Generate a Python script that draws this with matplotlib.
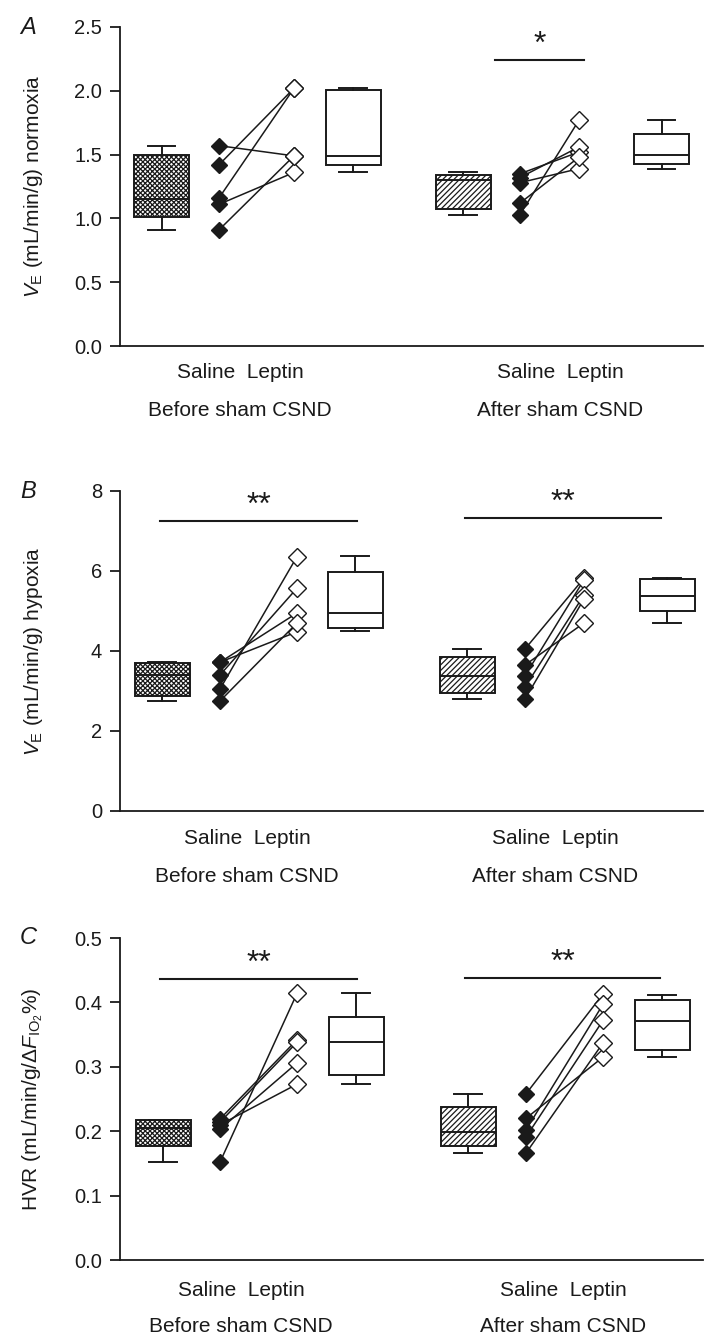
import matplotlib
matplotlib.use('Agg')
import matplotlib.pyplot as plt
import numpy as np

plt.rcParams['font.family'] = ['Liberation Sans', 'DejaVu Sans']
plt.rcParams['mathtext.fontset'] = 'custom'
plt.rcParams['mathtext.rm'] = 'Liberation Sans'
plt.rcParams['mathtext.it'] = 'Liberation Sans:italic'
plt.rcParams['hatch.linewidth'] = 0.9

INK = '#1a1a1a'

# box stats per group: whisker low, q1, median, q3, whisker high
# panel A (normoxia)
a_sal_before_box = [0.91, 1.01, 1.15, 1.50, 1.57]
a_lep_before_box = [1.36, 1.42, 1.49, 2.01, 2.02]
a_sal_after_box = [1.03, 1.07, 1.30, 1.34, 1.36]
a_lep_after_box = [1.39, 1.43, 1.50, 1.66, 1.77]
a_sal_before = [1.57, 1.42, 1.16, 1.11, 0.91]
a_lep_before = [1.49, 2.02, 2.02, 1.36, 1.49]
a_sal_after = [1.35, 1.32, 1.28, 1.12, 1.03]
a_lep_after = [1.52, 1.56, 1.39, 1.48, 1.77]

# panel B (hypoxia)
b_sal_before_box = [2.75, 2.88, 3.40, 3.70, 3.72]
b_lep_before_box = [4.50, 4.58, 4.95, 5.97, 6.37]
b_sal_after_box = [2.80, 2.95, 3.38, 3.85, 4.05]
b_lep_after_box = [4.70, 5.00, 5.37, 5.80, 5.82]
b_sal_before = [3.72, 3.72, 3.40, 3.05, 2.75]
b_lep_before = [4.95, 4.48, 5.57, 6.36, 4.70]
b_sal_after = [4.05, 3.65, 3.38, 3.10, 2.80]
b_lep_after = [5.82, 4.70, 5.78, 5.40, 5.30]

# panel C (HVR)
c_sal_before_box = [0.152, 0.177, 0.205, 0.217, 0.217]
c_lep_before_box = [0.273, 0.288, 0.338, 0.377, 0.414]
c_sal_after_box = [0.166, 0.177, 0.199, 0.238, 0.258]
c_lep_after_box = [0.315, 0.326, 0.371, 0.404, 0.411]
c_sal_before = [0.219, 0.214, 0.210, 0.203, 0.152]
c_lep_before = [0.342, 0.338, 0.273, 0.306, 0.414]
c_sal_after = [0.258, 0.220, 0.202, 0.191, 0.166]
c_lep_after = [0.413, 0.315, 0.397, 0.372, 0.337]

group_labels = ['Before sham CSND', 'After sham CSND']
pair_label = 'Saline  Leptin'

panels = [
    dict(letter='A', ylabel=r'$V_{\mathrm{E}}$ (mL/min/g) normoxia',
         yticks=[0.0, 0.5, 1.0, 1.5, 2.0, 2.5], yfmt='{:.1f}', ylim=(0, 2.5),
         boxes=[a_sal_before_box, a_lep_before_box, a_sal_after_box, a_lep_after_box],
         pairs=[(a_sal_before, a_lep_before), (a_sal_after, a_lep_after)],
         stars=[None, ('*', 2.24)],
         rect=(346, 27),
         xpos=[161.5, 219, 294, 353, 463, 520, 579, 661.5],
         lab_y=(372, 410), lab_x=(240, 560)),
    dict(letter='B', ylabel=r'$V_{\mathrm{E}}$ (mL/min/g) hypoxia',
         yticks=[0, 2, 4, 6, 8], yfmt='{:.0f}', ylim=(0, 8),
         boxes=[b_sal_before_box, b_lep_before_box, b_sal_after_box, b_lep_after_box],
         pairs=[(b_sal_before, b_lep_before), (b_sal_after, b_lep_after)],
         stars=[('**', 7.25), ('**', 7.32)],
         rect=(811, 491),
         xpos=[162, 220, 297, 355, 467, 525, 584, 667],
         lab_y=(838, 877), lab_x=(247, 555)),
    dict(letter='C', ylabel=r'HVR (mL/min/g/$\Delta F_{\mathrm{IO}_2}$%)',
         yticks=[0.0, 0.1, 0.2, 0.3, 0.4, 0.5], yfmt='{:.1f}', ylim=(0, 0.5),
         boxes=[c_sal_before_box, c_lep_before_box, c_sal_after_box, c_lep_after_box],
         pairs=[(c_sal_before, c_lep_before), (c_sal_after, c_lep_after)],
         stars=[('**', 0.436), ('**', 0.438)],
         rect=(1260, 938),
         xpos=[163, 220, 297, 356, 468, 526, 603, 662],
         lab_y=(1290, 1327), lab_x=(241, 563)),
]

# star bar spans (figure px) for before / after groups
bar_spans = {'A': [None, (495, 584)],
             'B': [(160, 357), (465, 661)],
             'C': [(160, 357), (465, 660)]}

W, H = 704, 1339
fig = plt.figure(figsize=(W / 100, H / 100), dpi=100)

ax_left = 120
ax_right = 703
box_w = 55

for p in panels:
    bottom_px, top_px = p['rect']
    ax = fig.add_axes([ax_left / W, 1 - bottom_px / H,
                       (ax_right - ax_left) / W, (bottom_px - top_px) / H])
    ax.set_xlim(ax_left, ax_right)
    ax.set_ylim(*p['ylim'])
    xs = p['xpos']

    box_pos = [xs[0], xs[3], xs[4], xs[7]]
    hatches = ['xxxxxxx', None, '//////', None]
    stats = []
    for b in p['boxes']:
        stats.append(dict(whislo=b[0], q1=b[1], med=b[2], q3=b[3], whishi=b[4], fliers=[]))
    bp = ax.bxp(stats, positions=box_pos, widths=box_w, patch_artist=True,
                showfliers=False,
                boxprops=dict(linewidth=1.4, edgecolor=INK, facecolor='white'),
                medianprops=dict(color=INK, linewidth=1.4),
                whiskerprops=dict(color=INK, linewidth=1.4),
                capprops=dict(color=INK, linewidth=1.4),
                capwidths=box_w / 2)
    for patch, h in zip(bp['boxes'], hatches):
        if h:
            patch.set_hatch(h)

    # paired points
    for k, (sal, lep) in enumerate(p['pairs']):
        xs_s = xs[1 + 4 * k]
        xs_l = xs[2 + 4 * k]
        for s, l in zip(sal, lep):
            ax.plot([xs_s, xs_l], [s, l], color=INK, lw=1.1, zorder=3)
        ax.plot([xs_s] * len(sal), sal, 'D', ms=8.5, mfc=INK, mec=INK, ls='none', zorder=4)
        ax.plot([xs_l] * len(lep), lep, 'D', ms=9, mfc='white', mec=INK, mew=1.0,
                ls='none', zorder=4)

    # significance bars
    for star, span in zip(p['stars'], bar_spans[p['letter']]):
        if star is None:
            continue
        txt, yv = star
        ax.plot(span, [yv, yv], color=INK, lw=1.5, clip_on=False)
        ax.annotate(txt, xy=((span[0] + span[1]) / 2, yv), xytext=(0, 0),
                    textcoords='offset points', ha='center', va='bottom',
                    fontsize=23, color=INK)

    ax.set_yticks(p['yticks'])
    ax.set_yticklabels([p['yfmt'].format(t) for t in p['yticks']])
    ax.set_xticks([])
    ax.spines['top'].set_visible(False)
    ax.spines['right'].set_visible(False)
    for s in ['left', 'bottom']:
        ax.spines[s].set_linewidth(1.3)
        ax.spines[s].set_color(INK)
    ax.tick_params(axis='y', direction='out', length=7, width=1.3, color=INK,
                   labelsize=14.5, pad=6, labelcolor=INK)
    ax.set_ylabel(p['ylabel'], fontsize=15, color=INK)
    ax.yaxis.set_label_coords(-(ax_left - 45) / (ax_right - ax_left), 0.5)

    fig.text(28 / W, 1 - top_px / H, p['letter'], fontsize=17, style='italic',
             ha='center', va='center', color=INK)

    for gx, glab in zip(p['lab_x'], group_labels):
        fig.text(gx / W, 1 - p['lab_y'][0] / H, pair_label, fontsize=15,
                 ha='center', va='center', color=INK)
        fig.text(gx / W, 1 - p['lab_y'][1] / H, glab, fontsize=15,
                 ha='center', va='center', color=INK)

fig.savefig('out.png', dpi=100)
